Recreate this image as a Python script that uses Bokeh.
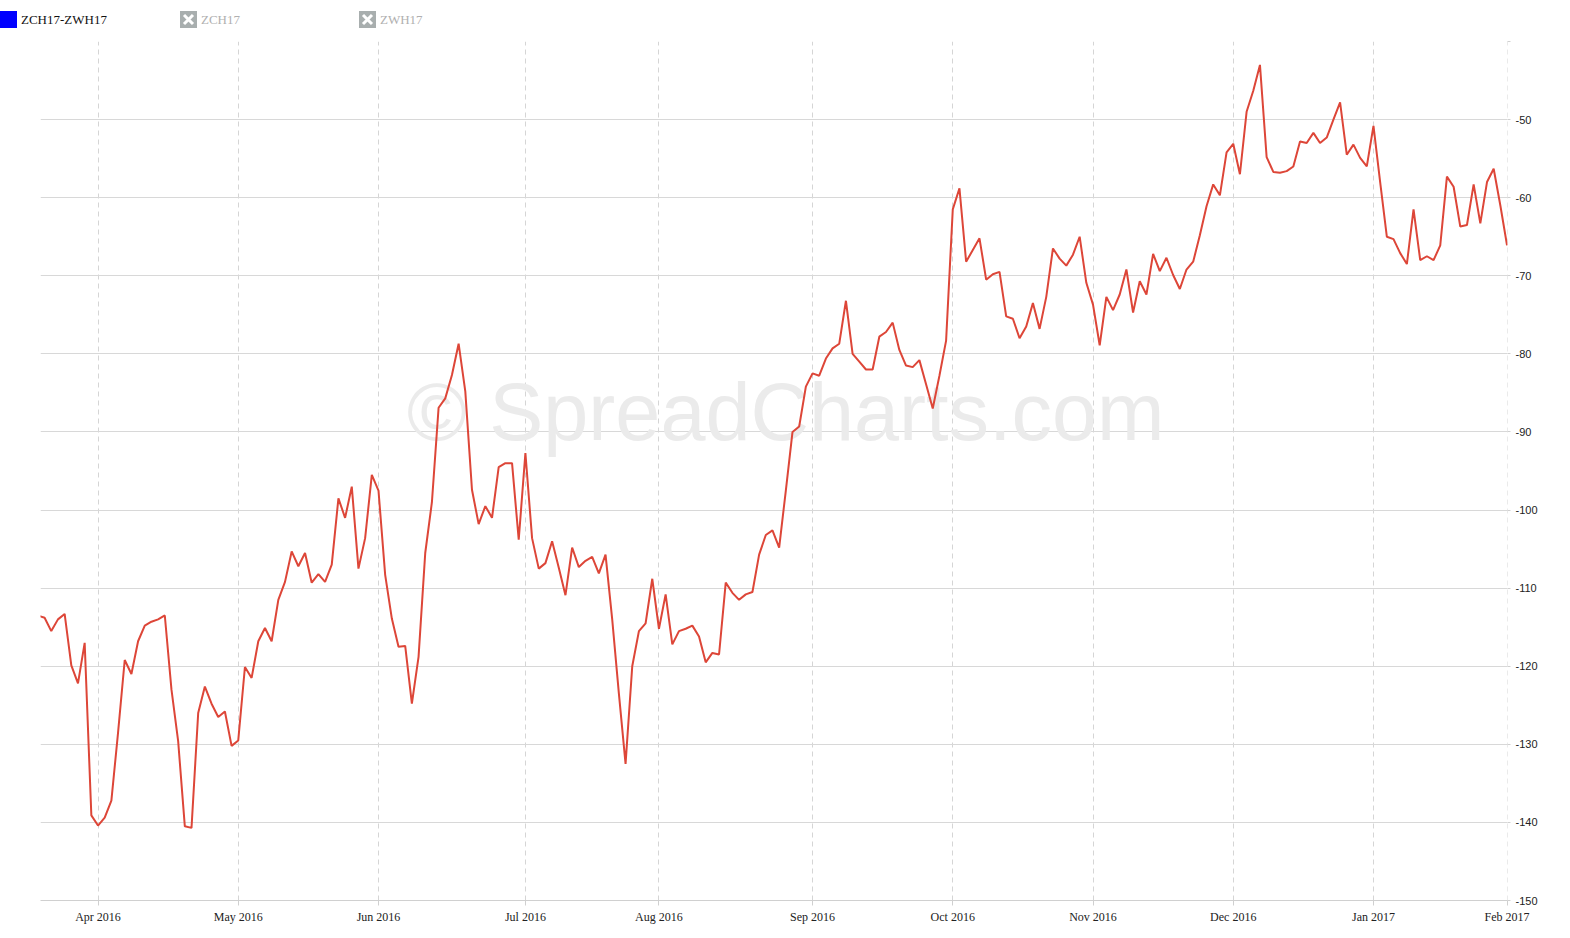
import pandas as pd
from bokeh.plotting import figure
from bokeh.models import Range1d, FixedTicker, Label, ColumnDataSource, Div
from bokeh.layouts import column
from bokeh.embed import file_html
from bokeh.resources import INLINE

# ---------------- data ----------------
legend_names = ["ZCH17-ZWH17", "ZCH17", "ZWH17"]
start_date = "2016-03-18"
end_date = "2017-02-01"
exchange_holidays = ["2016-03-25", "2016-05-30", "2016-07-04", "2016-09-05",
                     "2016-11-24", "2016-12-26", "2017-01-02", "2017-01-16"]

# one value per trading day (spread ZCH17-ZWH17, cents)
spread_values = [
    -113.5, -113.8, -115.5, -114.0, -113.3, -119.9, -122.2, -117.0, -139.1, -140.4,
    -139.4, -137.2, -128.5, -119.2, -121.0, -116.8, -114.8, -114.3, -114.0, -113.5,
    -123.0, -129.6, -140.5, -140.7, -126.0, -122.6, -124.8, -126.5, -125.8, -130.2,
    -129.5, -120.1, -121.5, -116.8, -115.1, -116.8, -111.5, -109.2, -105.3, -107.2,
    -105.5, -109.3, -108.2, -109.2, -107.0, -98.5, -101.0, -97.0, -107.5, -103.6,
    -95.5, -97.5, -108.3, -113.9, -117.5, -117.4, -124.8, -118.8, -105.5, -99.0,
    -86.9, -85.7, -82.7, -78.7, -84.8, -97.4, -101.8, -99.5, -101.0, -94.5,
    -94.0, -94.0, -103.8, -92.7, -103.6, -107.5, -106.8, -104.0, -107.4, -110.9,
    -104.8, -107.3, -106.5, -106.0, -108.1, -105.7, -114.0, -123.5, -132.5, -120.0,
    -115.5, -114.5, -108.8, -115.2, -110.8, -117.2, -115.5, -115.2, -114.8, -116.2,
    -119.5, -118.3, -118.5, -109.3, -110.6, -111.5, -110.8, -110.5, -105.7, -103.2,
    -102.6, -104.8, -97.5, -90.0, -89.3, -84.2, -82.5, -82.8, -80.6, -79.3,
    -78.7, -73.2, -80.0, -81.0, -82.0, -82.0, -77.8, -77.2, -76.0, -79.5,
    -81.5, -81.7, -80.8, -83.9, -87.0, -82.8, -78.3, -61.5, -58.8, -68.2,
    -66.7, -65.2, -70.5, -69.8, -69.5, -75.2, -75.5, -78.0, -76.5, -73.5,
    -76.8, -72.7, -66.5, -67.8, -68.7, -67.3, -65.0, -70.9, -73.7, -78.9,
    -72.7, -74.4, -72.4, -69.2, -74.7, -70.7, -72.4, -67.2, -69.4, -67.7,
    -69.9, -71.7, -69.2, -68.2, -64.8, -61.1, -58.3, -59.7, -54.2, -53.1,
    -57.0, -49.0, -46.3, -43.0, -54.8, -56.7, -56.8, -56.6, -56.0, -52.8,
    -53.0, -51.7, -53.0, -52.3, -50.0, -47.8, -54.5, -53.2, -54.9, -56.0,
    -50.8, -58.0, -65.0, -65.3, -67.1, -68.5, -61.5, -68.0, -67.5, -68.0,
    -66.1, -57.3, -58.6, -63.7, -63.5, -58.3, -63.3, -58.0, -56.3, -61.0,
    -66.1,
]

y_ticks = [-150, -140, -130, -120, -110, -100, -90, -80, -70, -60, -50, -40]
y_tick_labels = {t: str(t) for t in y_ticks}
y_tick_labels[-40] = ""
watermark_text = "\u00a9 SpreadCharts.com"

# ---------------- derived ----------------
cbd = pd.offsets.CustomBusinessDay(holidays=exchange_holidays)
dates = pd.date_range(start_date, end_date, freq=cbd)
n = min(len(dates), len(spread_values))
src = ColumnDataSource(dict(k=list(range(n)), v=spread_values[:n],
                            d=[d.strftime("%Y-%m-%d") for d in dates[:n]]))

month_ticks = []
month_labels = {}
for k in range(1, n):
    if dates[k].month != dates[k - 1].month:
        month_ticks.append(k)
        month_labels[k] = dates[k].strftime("%b %Y")

W = 1562

# ---------------- legend strip (HTML) ----------------
def x_icon(left):
    return (f'<svg style="position:absolute;left:{left}px;top:11px" width="17" height="17">'
            f'<rect width="17" height="17" fill="#a8aeae"/>'
            f'<path d="M4 4L13 13M13 4L4 13" stroke="white" stroke-width="3"/></svg>')

legend_html = (
    f'<div style="position:relative;width:{W}px;height:36px;'
    f'font-family:\'Liberation Serif\';font-size:13px;line-height:17px;">'
    f'<div style="position:absolute;left:0px;top:11px;width:17px;height:17px;background:#0000ff;"></div>'
    f'<span style="position:absolute;left:21px;top:11px;color:#111111;">{legend_names[0]}</span>'
    + x_icon(180) +
    f'<span style="position:absolute;left:201px;top:11px;color:#b0b0b0;">{legend_names[1]}</span>'
    + x_icon(359) +
    f'<span style="position:absolute;left:380px;top:11px;color:#b0b0b0;">{legend_names[2]}</span>'
    '</div>'
)
legend_div = Div(text=legend_html, width=W, height=36, margin=(0, 0, 0, 0))

# ---------------- main chart ----------------
p = figure(width=W, height=894, x_range=Range1d(0.386, 220.07), y_range=Range1d(-150, -40),
           output_backend="svg", toolbar_location=None, title=None,
           y_axis_location="right",
           min_border_left=40, min_border_right=55, min_border_top=5, min_border_bottom=30)
p.outline_line_color = None
p.background_fill_color = "white"
p.border_fill_color = "white"

wm = Label(x=112, y=-87.5, text=watermark_text, text_align="center",
           text_baseline="alphabetic", text_font="Liberation Sans",
           text_font_size="81px", text_color="#ebebeb", level="underlay")
p.add_layout(wm)

p.line(x="k", y="v", source=src, line_color="#dd4638", line_width=2)

xt = FixedTicker(ticks=month_ticks)
p.xaxis.ticker = xt
p.xaxis.major_label_overrides = month_labels
p.xaxis.axis_line_color = "#d0d0d0"
p.xaxis.major_tick_line_color = "#d0d0d0"
p.xaxis.major_tick_out = 5
p.xaxis.major_tick_in = 0
p.xaxis.minor_tick_line_color = None
p.xaxis.major_label_standoff = 4
p.xaxis.major_label_text_font = "Liberation Serif"
p.xaxis.major_label_text_font_size = "12px"
p.xaxis.major_label_text_color = "#222222"

p.xgrid.ticker = xt
p.xgrid.grid_line_color = "#d5d5d5"
p.xgrid.grid_line_dash = "5 4"

yt = FixedTicker(ticks=y_ticks)
p.yaxis.ticker = yt
p.yaxis.major_label_overrides = y_tick_labels
p.yaxis.axis_line_color = None
p.yaxis.major_tick_line_color = "#d0d0d0"
p.yaxis.major_tick_out = 3
p.yaxis.major_tick_in = 0
p.yaxis.minor_tick_line_color = None
p.yaxis.major_label_standoff = 5
p.yaxis.major_label_text_font = "Liberation Sans"
p.yaxis.major_label_text_font_size = "11px"
p.yaxis.major_label_text_color = "#222222"

p.ygrid.ticker = yt
p.ygrid.grid_line_color = "#d8d8d8"

layout = column(legend_div, p, spacing=0)
open("out.html", "w").write(file_html(layout, INLINE))
